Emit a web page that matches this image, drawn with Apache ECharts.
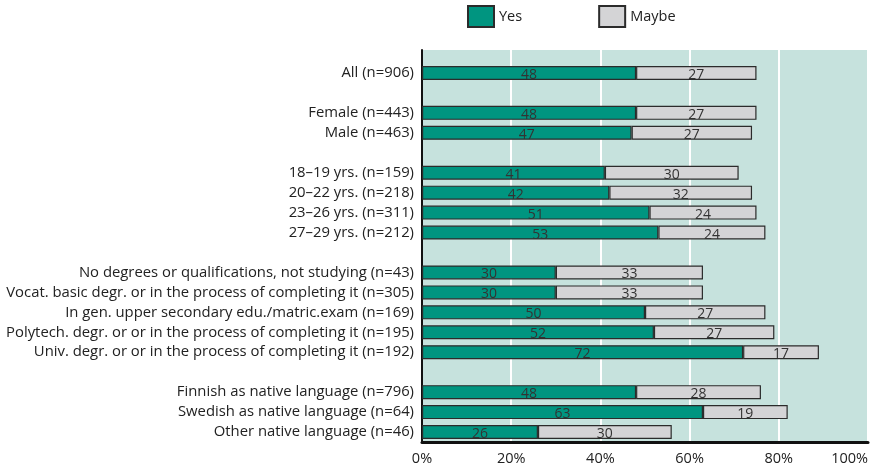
<!DOCTYPE html>
<html>
<head>
<meta charset="utf-8">
<script src="https://cdn.jsdelivr.net/npm/echarts@6/dist/echarts.min.js"></script>
<style>
  html, body { margin: 0; padding: 0; background: #fff; overflow: hidden; }
  #chart { width: 876px; height: 468px; }
</style>
</head>
<body>
<div id="chart"></div>
<script>
// Row labels, top to bottom; empty strings are spacer rows between groups
const categories = [
  'All (n=906)',
  '',
  'Female (n=443)',
  'Male (n=463)',
  '',
  '18\u201319 yrs. (n=159)',
  '20\u201322 yrs. (n=218)',
  '23\u201326 yrs. (n=311)',
  '27\u201329 yrs. (n=212)',
  '',
  'No degrees or qualifications, not studying (n=43)',
  'Vocat. basic degr. or in the process of completing it (n=305)',
  'In gen. upper secondary edu./matric.exam (n=169)',
  'Polytech. degr. or or in the process of completing it (n=195)',
  'Univ. degr. or or in the process of completing it (n=192)',
  '',
  'Finnish as native language (n=796)',
  'Swedish as native language (n=64)',
  'Other native language (n=46)'
];
const yesValues   = [48, null, 48, 47, null, 41, 42, 51, 53, null, 30, 30, 50, 52, 72, null, 48, 63, 26];
const maybeValues = [27, null, 27, 27, null, 30, 32, 24, 24, null, 33, 33, 27, 27, 17, null, 28, 19, 30];
const xTicks = [0, 20, 40, 60, 80, 100];

const FONT = '"Open Sans", "Noto Sans", sans-serif';
const chart = echarts.init(document.getElementById('chart'), null, { renderer: 'canvas', width: 876, height: 468 });

const barLabel = {
  show: true,
  position: 'inside',
  color: '#333',
  fontFamily: FONT,
  fontSize: 14,
  offset: [0, 2],
  formatter: p => (p.value == null ? '' : String(p.value))
};

chart.setOption({
  animation: false,
  textStyle: { fontFamily: FONT },
  legend: {
    top: 5,
    left: 467,
    padding: 0,
    icon: 'rect',
    itemWidth: 26,
    itemHeight: 21,
    itemGap: 76,
    textStyle: { fontFamily: FONT, fontSize: 14.5, color: '#222' },
    data: ['Yes', 'Maybe']
  },
  grid: [
    { left: 422, right: 8, top: 50, bottom: 26, show: true, backgroundColor: '#c6e2dd', borderWidth: 0, outerBoundsMode: 'none', containLabel: false },
    { left: 422, right: 8, top: 63, bottom: 26, outerBoundsMode: 'none', containLabel: false }
  ],
  xAxis: [
    {
      gridIndex: 0, type: 'value', min: xTicks[0], max: xTicks[xTicks.length - 1], interval: 20,
      axisLine: { show: true, lineStyle: { color: '#111', width: 3 } },
      axisTick: { show: false },
      axisLabel: { color: '#222', fontSize: 14.5, fontFamily: FONT, margin: 9, formatter: '{value}%', alignMaxLabel: 'right' },
      splitLine: { show: true, lineStyle: { color: '#ffffff', width: 2 } }
    },
    { gridIndex: 1, type: 'value', min: 0, max: 100, show: false }
  ],
  yAxis: [
    {
      gridIndex: 0, type: 'value', min: 0, max: 1,
      axisLine: { show: true, onZero: false, lineStyle: { color: '#111', width: 2 } },
      axisTick: { show: false }, axisLabel: { show: false }, splitLine: { show: false }
    },
    {
      gridIndex: 1, type: 'category', inverse: true, data: categories,
      axisLine: { show: false }, axisTick: { show: false }, splitLine: { show: false },
      axisLabel: { color: '#222', fontSize: 14.85, fontFamily: FONT, margin: 8, interval: 0 }
    }
  ],
  series: [
    {
      name: 'Yes', type: 'bar', stack: 'share', xAxisIndex: 1, yAxisIndex: 1,
      barWidth: 14, data: yesValues,
      itemStyle: { color: '#009580', borderColor: '#2b2b2b', borderWidth: 1.2 },
      label: barLabel
    },
    {
      name: 'Maybe', type: 'bar', stack: 'share', xAxisIndex: 1, yAxisIndex: 1,
      barWidth: 14, data: maybeValues,
      itemStyle: { color: '#d4d4d6', borderColor: '#2b2b2b', borderWidth: 1.2 },
      label: barLabel
    }
  ]
});
</script>
</body>
</html>
